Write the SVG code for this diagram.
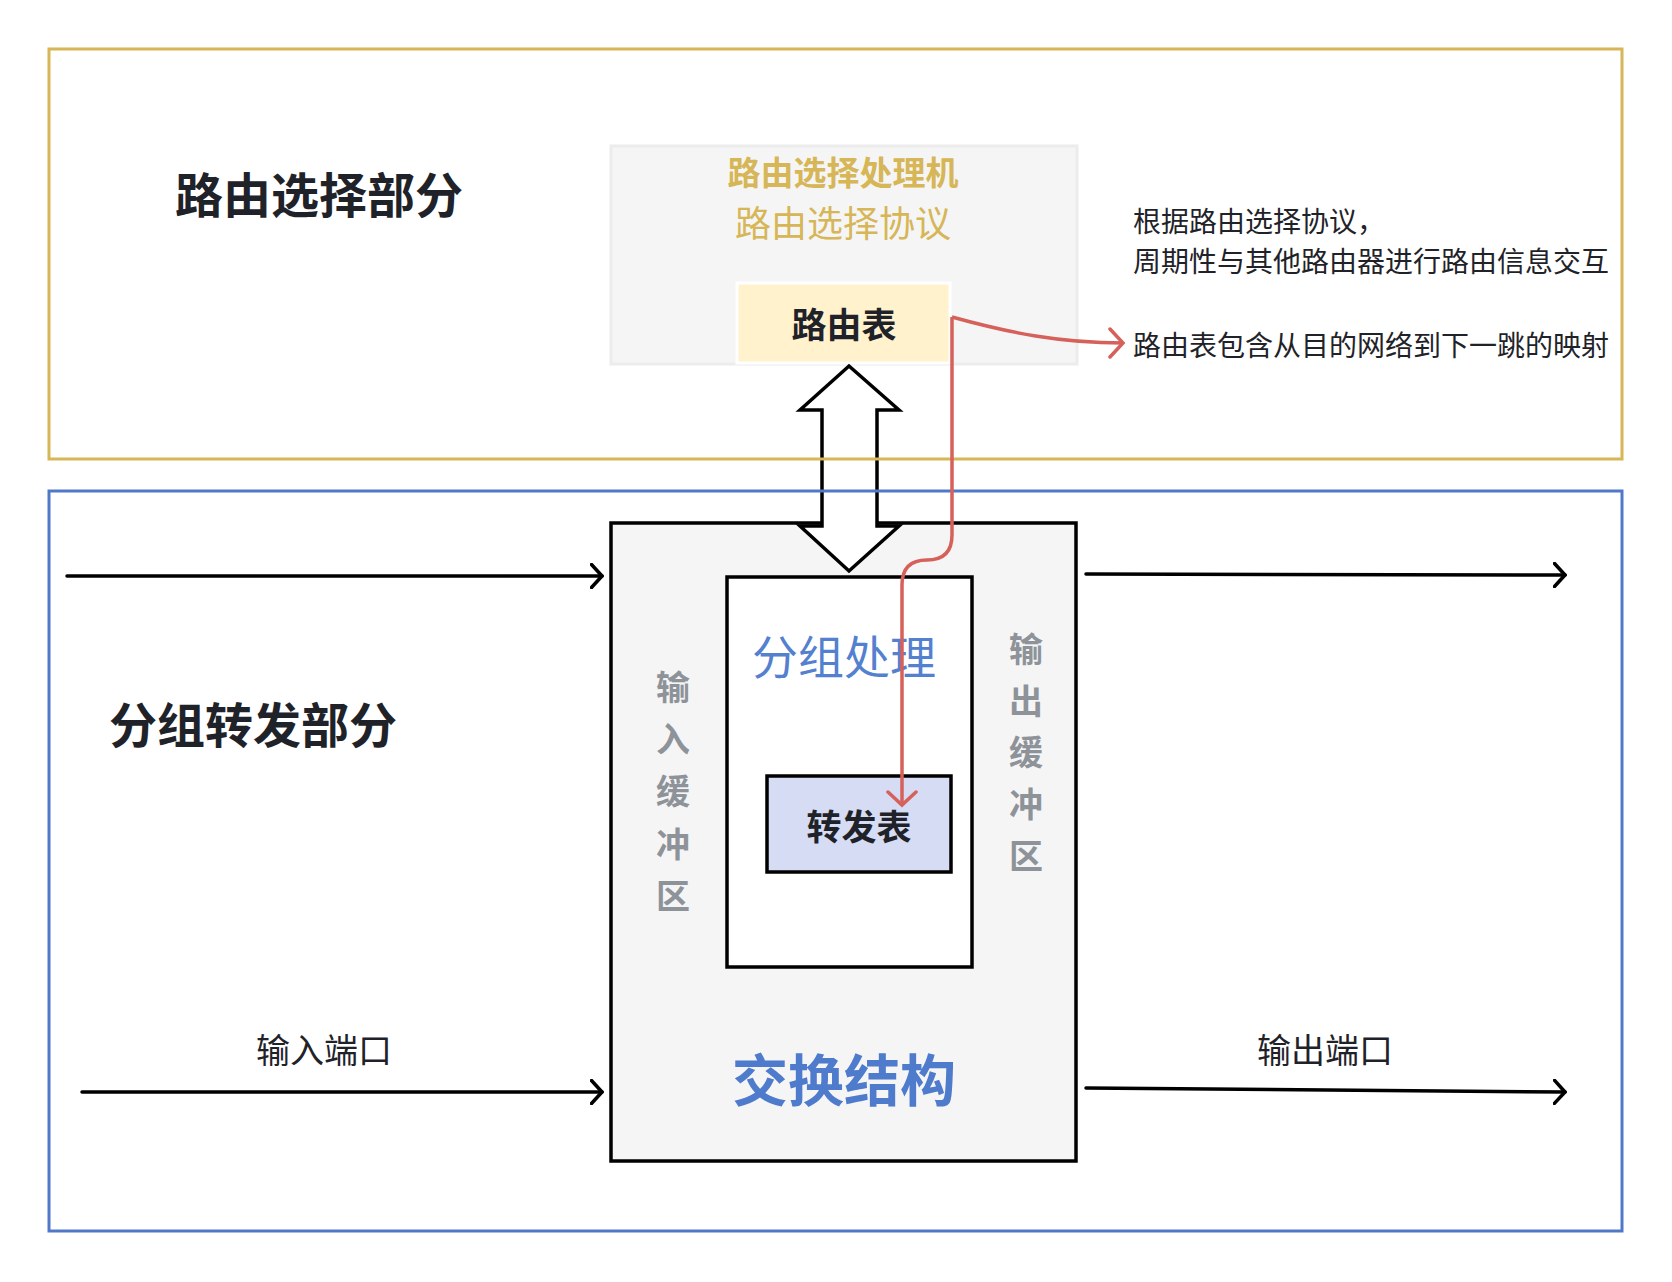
<svg xmlns="http://www.w3.org/2000/svg" width="1672" height="1282" viewBox="0 0 1672 1282">
<style>
text{font-family:"Noto Sans CJK SC","Noto Sans",sans-serif;dominant-baseline:central;text-anchor:middle}
.dark{fill:#1f2329}
.b{font-weight:700}
.box{fill:#f5f5f5;stroke:#000;stroke-width:3.5}
.line{fill:none;stroke:#000;stroke-width:3.5;stroke-linecap:round}
.red{fill:none;stroke:#d6605a;stroke-width:3.5}
.gray{fill:#8e939a;font-weight:700;font-size:34px}
</style>
<defs>
<marker id="ah" viewBox="0 0 14 26" refX="12" refY="13" markerWidth="14" markerHeight="26" orient="auto" markerUnits="userSpaceOnUse">
<path d="M1.5,1.5 L12,13 L1.5,24.5" fill="none" stroke="#000" stroke-width="3.5" stroke-linecap="round" stroke-linejoin="miter"/>
</marker>
<marker id="ahr" viewBox="0 0 18 32" refX="15" refY="16" markerWidth="18" markerHeight="32" orient="auto" markerUnits="userSpaceOnUse">
<path d="M2,2 L15,16 L2,30" fill="none" stroke="#d6605a" stroke-width="3.5" stroke-linecap="round"/>
</marker>
</defs>
<rect width="1672" height="1282" fill="#fff"/>

<g id="routing-processor">
<rect x="611" y="146" width="466" height="218" fill="#f5f5f5" stroke="#ececec" stroke-width="3"/>
<text x="843" y="171" font-size="33" class="b" fill="#d6b656">路由选择处理机</text>
<text x="843" y="221" font-size="36" fill="#d6b656">路由选择协议</text>
</g>
<g id="routing-table">
<rect x="737" y="283" width="213" height="80" fill="#fff2cc" stroke="#ffffff" stroke-width="3"/>
<text x="844" y="322" font-size="35" class="b dark">路由表</text>
</g>

<g id="switch-fabric">
<rect x="611" y="523" width="465" height="638" class="box"/>
<text x="844" y="1076" font-size="56" class="b" fill="#4f7bcc">交换结构</text>
</g>
<g id="input-buffer">
<text x="673" y="685" class="gray">输</text>
<text x="673" y="737" class="gray">入</text>
<text x="673" y="789" class="gray">缓</text>
<text x="673" y="842" class="gray">冲</text>
<text x="673" y="894" class="gray">区</text>
</g>
<g id="output-buffer">
<text x="1026" y="647" class="gray">输</text>
<text x="1026" y="699" class="gray">出</text>
<text x="1026" y="750" class="gray">缓</text>
<text x="1026" y="802" class="gray">冲</text>
<text x="1026" y="854" class="gray">区</text>
</g>
<g id="packet-processing">
<rect x="727" y="577" width="245" height="390" fill="#fff" stroke="#000" stroke-width="3.5"/>
<text x="844" y="654" font-size="46" fill="#5480d0">分组处理</text>
</g>
<g id="forwarding-table">
<rect x="767" y="776" width="184" height="96" fill="#d5dcf4" stroke="#000" stroke-width="3.5"/>
<text x="859" y="824" font-size="35" class="b dark">转发表</text>
</g>

<g id="double-arrow">
<polygon points="849,366 899,410 877,410 877,526 899,526 849,571 800,526 822,526 822,410 800,410" fill="#fff" stroke="#000" stroke-width="3.5" stroke-linejoin="miter"/>
</g>

<g id="routing-section">
<rect x="49" y="49" width="1573" height="410" fill="none" stroke="#d6b656" stroke-width="3"/>
<text x="319" y="192" font-size="48" class="b dark">路由选择部分</text>
</g>
<g id="forwarding-section">
<rect x="49" y="491" width="1573" height="740" fill="none" stroke="#5078c8" stroke-width="3"/>
<text x="253" y="722" font-size="48" class="b dark">分组转发部分</text>
</g>

<g id="notes">
<text x="1133" y="220" font-size="28" class="dark" style="text-anchor:start">根据路由选择协议，</text>
<text x="1133" y="260" font-size="28" class="dark" style="text-anchor:start">周期性与其他路由器进行路由信息交互</text>
<text x="1133" y="344" font-size="28" class="dark" style="text-anchor:start">路由表包含从目的网络到下一跳的映射</text>
<text x="324" y="1048" font-size="34" class="dark">输入端口</text>
<text x="1325" y="1048" font-size="34" class="dark">输出端口</text>
</g>

<g id="connectors">
<line x1="67" y1="576" x2="602" y2="576" class="line" marker-end="url(#ah)"/>
<line x1="82" y1="1092" x2="602" y2="1092" class="line" marker-end="url(#ah)"/>
<line x1="1086" y1="574" x2="1565" y2="575" class="line" marker-end="url(#ah)"/>
<line x1="1086" y1="1088" x2="1565" y2="1092" class="line" marker-end="url(#ah)"/>
<path d="M952,317 C1010,333 1060,343 1123,343" class="red" marker-end="url(#ahr)"/>
<path d="M952,317 L952,535 Q952,560 927,560 Q902,560 902,585 L902,805" class="red" marker-end="url(#ahr)"/>
</g>
</svg>
